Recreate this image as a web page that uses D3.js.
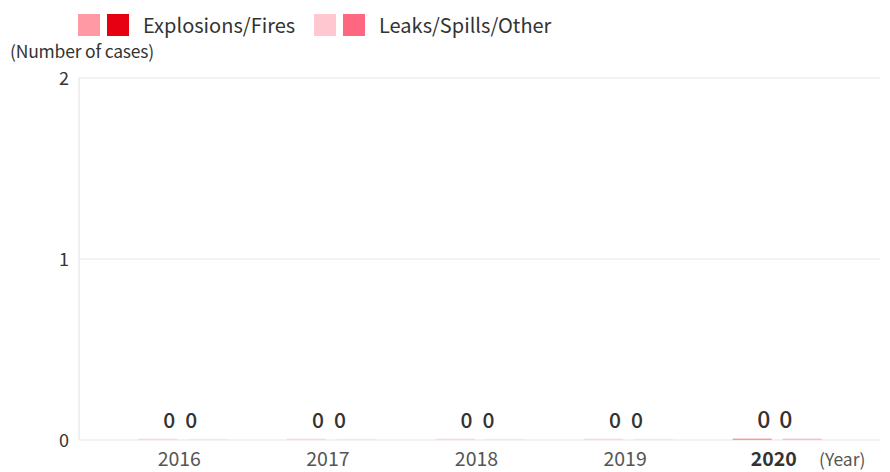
<!DOCTYPE html>
<html><head><meta charset="utf-8">
<script src="https://cdn.jsdelivr.net/npm/d3@7"></script>
<style>
body{margin:0;background:#fff;}
text{font-family:"Noto Sans CJK JP","Noto Sans",sans-serif;}
</style></head>
<body><svg id="c" width="890" height="472"></svg>
<script>
const years = ["2016","2017","2018","2019","2020"];
const explosionsFires = [0,0,0,0,0];
const leaksSpillsOther = [0,0,0,0,0];
const yTicks = [0,1,2];
const seriesNames = ["Explosions/Fires","Leaks/Spills/Other"];
const pastColors = ["#ff99a3","#ffc8d0"];
const currentColors = ["#e60012","#ff6680"];

const svg = d3.select("#c");
const x = d3.scaleBand().domain(years).range([108,851]).paddingInner(0).paddingOuter(0);
const y = d3.scaleLinear().domain([0,2]).range([440,78]);
const xs = d3.scaleBand().domain([0,1]).range([-44,45]).paddingInner(0.22);

// gridlines
svg.append("g").selectAll("line").data(yTicks).join("line")
  .attr("x1",79).attr("x2",880).attr("y1",d=>y(d)).attr("y2",d=>y(d))
  .attr("stroke","#e6e6e6").attr("stroke-width",1.2);
svg.append("line").attr("x1",79).attr("x2",79).attr("y1",y(2)).attr("y2",y(0))
  .attr("stroke","#e6e6e6").attr("stroke-width",1.2);

// tick labels
svg.append("g").selectAll("text").data(yTicks).join("text")
  .attr("x",69).attr("y",d=>y(d)+2).attr("text-anchor","end").attr("dominant-baseline","middle")
  .attr("font-family","Roboto,sans-serif")
  .attr("font-size",18).attr("fill","#333").text(d=>d);

svg.append("text").attr("x",10).attr("y",58).attr("font-size",17.5).attr("fill","#333")
  .attr("letter-spacing",-0.2).text("(Number of cases)");

// bars
const data = years.map((yr,i)=>({yr, vals:[explosionsFires[i],leaksSpillsOther[i]], cur: yr==="2020"}));
const g = svg.append("g").selectAll("g").data(data).join("g")
  .attr("transform",d=>`translate(${x(d.yr)+x.bandwidth()/2},0)`);
g.selectAll("rect").data(d=>d.vals.map((v,k)=>({v,k,cur:d.cur}))).join("rect")
  .attr("x",d=>xs(d.k)).attr("width",xs.bandwidth())
  .attr("y",d=>Math.min(y(d.v),y(0)-1.5)).attr("height",d=>Math.max(y(0)-y(d.v),1.5))
  .attr("fill",d=>d.cur?currentColors[d.k]:pastColors[d.k])
  .attr("opacity",d=>d.v===0?(d.cur?0.35:0.25):1);
g.selectAll("text.val").data(d=>d.vals.map((v,k)=>({v,k,cur:d.cur}))).join("text")
  .attr("class","val")
  .attr("x",d=>d.k===0?-13:9).attr("y",d=>y(d.v)-12)
  .attr("text-anchor","middle").attr("font-family","Roboto,sans-serif")
  .attr("font-size",d=>d.cur?23:21).attr("font-weight",500)
  .attr("fill","#333").text(d=>d.v);

// x labels
svg.append("g").selectAll("text").data(years).join("text")
  .attr("x",d=>x(d)+x.bandwidth()/2-3).attr("y",466).attr("text-anchor","middle")
  .attr("font-family","Roboto,sans-serif")
  .attr("font-size",19.5).attr("font-weight",d=>d==="2020"?700:400)
  .attr("fill",d=>d==="2020"?"#333":"#555").text(d=>d);
svg.append("text").attr("x",819).attr("y",466).attr("font-family","Roboto,sans-serif")
  .attr("font-size",17.5).attr("fill","#555").text("(Year)");

// legend
const leg = [{x:78,name:seriesNames[0],k:0},{x:314,name:seriesNames[1],k:1}];
const lg = svg.append("g").selectAll("g").data(leg).join("g").attr("transform",d=>`translate(${d.x},14)`);
lg.append("rect").attr("x",0).attr("width",22).attr("height",22).attr("fill",d=>pastColors[d.k]);
lg.append("rect").attr("x",29).attr("width",22).attr("height",22).attr("fill",d=>currentColors[d.k]);
lg.append("text").attr("x",65).attr("y",19).attr("font-size",20).attr("fill","#333").text(d=>d.name);
</script></body></html>
